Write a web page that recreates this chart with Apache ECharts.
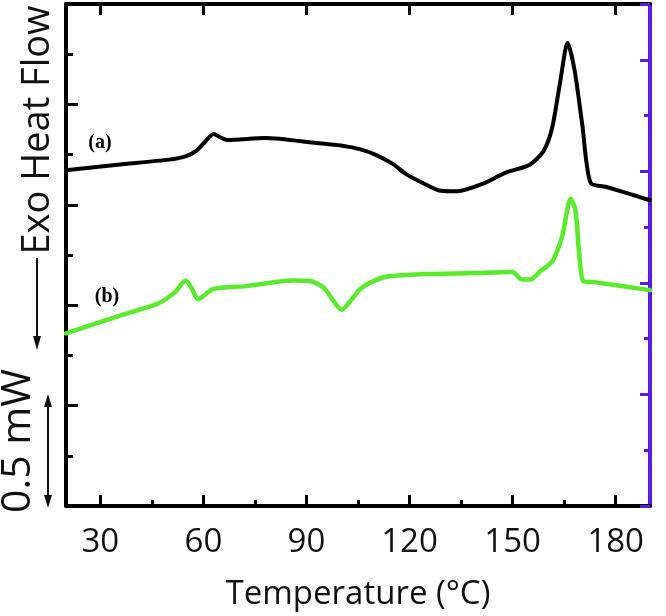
<!DOCTYPE html>
<html>
<head>
<meta charset="utf-8">
<script src="https://cdn.jsdelivr.net/npm/echarts@6/dist/echarts.min.js"></script>
<style>
html,body{margin:0;padding:0;background:#fff;}
#chart{width:666px;height:616px;}
</style>
</head>
<body>
<div id="chart"></div>
<script>
// Curve (a): temperature (°C) and heat flow (arbitrary units, offset)
var tempA = [20, 35, 50, 55, 58, 60, 63, 65, 67, 78, 93, 100, 106, 110, 115, 119, 124, 129, 134, 141, 148, 155, 159, 161.5, 164, 166, 168, 170.3, 172.7, 177.6, 190];
var heatA = [6.69, 6.80, 6.90, 6.97, 7.08, 7.22, 7.41, 7.34, 7.29, 7.33, 7.23, 7.18, 7.10, 7.00, 6.82, 6.61, 6.43, 6.28, 6.27, 6.41, 6.64, 6.80, 7.07, 7.53, 8.51, 9.23, 8.70, 7.59, 6.44, 6.35, 6.09];
// Curve (b)
var tempB = [20, 37.5, 47, 51.6, 54.8, 56.5, 58.4, 62.8, 72.5, 86, 91, 95, 97.8, 100.2, 103.2, 105.6, 109.5, 114.3, 124, 138.6, 149.9, 152.8, 155.2, 158.1, 161.5, 164.4, 166.9, 168.3, 169.3, 170.6, 173.7, 190];
var heatB = [3.44, 3.83, 4.04, 4.25, 4.49, 4.35, 4.12, 4.32, 4.38, 4.49, 4.48, 4.35, 4.09, 3.91, 4.12, 4.32, 4.48, 4.58, 4.62, 4.64, 4.66, 4.51, 4.51, 4.68, 4.87, 5.36, 6.12, 5.89, 5.10, 4.48, 4.46, 4.30];
// Axis ticks
var xMajorTicks = [30, 60, 90, 120, 150, 180];
var xMinorTicks = [45, 75, 105, 135, 165];
var seriesLabels = ['(a)', '(b)'];

function pairs(xs, ys) { return xs.map(function (x, i) { return [x, ys[i]]; }); }

var purple = '#5a1be0';
var green = '#5aec2a';

var chart = echarts.init(document.getElementById('chart'), null, {renderer: 'canvas'});

var option = {
  backgroundColor: '#ffffff',
  animation: false,
  grid: {left: 66, right: 16, top: 4, bottom: 103, containLabel: false},
  xAxis: [
    {
      type: 'value', position: 'bottom', min: 20, max: 190,
      name: 'Temperature (°C)', nameLocation: 'middle', nameGap: 72,
      nameTextStyle: {fontFamily: 'Open Sans', fontSize: 33, color: '#111'},
      axisLine: {show: true, onZero: false, lineStyle: {color: '#000', width: 4}},
      axisTick: {show: true, inside: true, length: 11, customValues: xMajorTicks, lineStyle: {color: '#000', width: 3}},
      axisLabel: {show: true, customValues: xMajorTicks, margin: 20, fontFamily: 'Open Sans', fontSize: 33, color: '#111'},
      splitLine: {show: false}
    },
    {
      type: 'value', position: 'bottom', min: 20, max: 190,
      axisLine: {show: false, onZero: false},
      axisTick: {show: true, inside: true, length: 6, customValues: xMinorTicks, lineStyle: {color: '#000', width: 3}},
      axisLabel: {show: false},
      splitLine: {show: false}
    },
    {
      type: 'value', position: 'top', min: 20, max: 190,
      axisLine: {show: true, onZero: false, lineStyle: {color: '#000', width: 4}},
      axisTick: {show: true, inside: true, length: 11, customValues: xMajorTicks, lineStyle: {color: '#000', width: 3}},
      axisLabel: {show: false},
      splitLine: {show: false}
    }
  ],
  yAxis: [
    {
      type: 'value', position: 'left', min: 0, max: 10, interval: 2,
      axisLine: {show: true, onZero: false, lineStyle: {color: '#000', width: 4}},
      axisTick: {show: true, inside: true, length: 12, lineStyle: {color: '#000', width: 3}},
      minorTick: {show: true, splitNumber: 2, length: 7, lineStyle: {color: '#000', width: 3}},
      axisLabel: {show: false},
      splitLine: {show: false}
    },
    {
      type: 'value', position: 'right', min: 0, max: 9, interval: 2,
      axisLine: {show: true, onZero: false, lineStyle: {color: purple, width: 4}},
      axisTick: {show: true, inside: true, length: 10, lineStyle: {color: purple, width: 3}},
      minorTick: {show: true, splitNumber: 2, length: 6, lineStyle: {color: purple, width: 3}},
      axisLabel: {show: false},
      splitLine: {show: false}
    }
  ],
  series: [
    {
      name: '(a)', type: 'line', xAxisIndex: 0, yAxisIndex: 0,
      data: pairs(tempA, heatA), showSymbol: false, smooth: 0.25,
      lineStyle: {color: '#000', width: 4, join: 'round', cap: 'round'}, z: 5
    },
    {
      name: '(b)', type: 'line', xAxisIndex: 0, yAxisIndex: 0,
      data: pairs(tempB, heatB), showSymbol: false, smooth: 0.25,
      lineStyle: {color: green, width: 4.5, join: 'round', cap: 'round'}, z: 5
    }
  ],
  graphic: [
    {type: 'text', x: 100, y: 143, z: 10, style: {text: seriesLabels[0], fontFamily: 'Liberation Serif', fontWeight: 'bold', fontSize: 20, fill: '#000', align: 'center', verticalAlign: 'middle'}},
    {type: 'text', x: 107, y: 297, z: 10, style: {text: seriesLabels[1], fontFamily: 'Liberation Serif', fontWeight: 'bold', fontSize: 20, fill: '#000', align: 'center', verticalAlign: 'middle'}},
    {type: 'text', x: 38, y: 130, rotation: Math.PI / 2, z: 10, style: {text: 'Exo Heat Flow', fontFamily: 'Open Sans', fontSize: 38, fill: '#111', align: 'center', verticalAlign: 'middle'}},
    {type: 'line', z: 10, shape: {x1: 37, y1: 258, x2: 37, y2: 340}, style: {stroke: '#111', lineWidth: 2}},
    {type: 'polygon', z: 10, shape: {points: [[37, 350], [33, 336], [41, 336]]}, style: {fill: '#111'}},
    {type: 'text', x: 18, y: 441, rotation: Math.PI / 2, z: 10, style: {text: '0.5 mW', fontFamily: 'Open Sans', fontSize: 41, fill: '#111', align: 'center', verticalAlign: 'middle'}},
    {type: 'line', z: 10, shape: {x1: 48, y1: 402, x2: 48, y2: 500}, style: {stroke: '#111', lineWidth: 2}},
    {type: 'polygon', z: 10, shape: {points: [[48, 394], [44, 407], [52, 407]]}, style: {fill: '#111'}},
    {type: 'polygon', z: 10, shape: {points: [[48, 508], [44, 495], [52, 495]]}, style: {fill: '#111'}}
  ]
};
chart.setOption(option);
</script>
</body>
</html>
